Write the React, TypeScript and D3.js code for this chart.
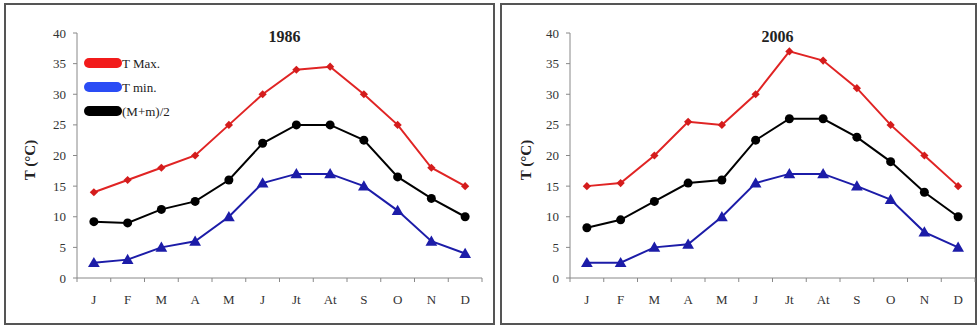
import React from "react";
import * as d3 from "d3";

const months = ["J", "F", "M", "A", "M", "J", "Jt", "At", "S", "O", "N", "D"];
const yTicks = [0, 5, 10, 15, 20, 25, 30, 35, 40];

const max1986 = [14, 16, 18, 20, 25, 30, 34, 34.5, 30, 25, 18, 15];
const mean1986 = [9.2, 9, 11.2, 12.5, 16, 22, 25, 25, 22.5, 16.5, 13, 10];
const min1986 = [2.5, 3, 5, 6, 10, 15.5, 17, 17, 15, 11, 6, 4];

const max2006 = [15, 15.5, 20, 25.5, 25, 30, 37, 35.5, 31, 25, 20, 15];
const mean2006 = [8.2, 9.5, 12.5, 15.5, 16, 22.5, 26, 26, 23, 19, 14, 10];
const min2006 = [2.5, 2.5, 5, 5.5, 10, 15.5, 17, 17, 15, 12.8, 7.5, 5];

const legendItems = [
  { label: "T Max.", color: "#f21b1b" },
  { label: "T min.", color: "#2a4cf5" },
  { label: "(M+m)/2", color: "#000000" },
];

const serif = "'Liberation Serif', 'DejaVu Serif', serif";

type Panel = {
  title: string;
  box: [number, number, number, number];
  axisX: number;
  axisEnd: number;
  max: number[];
  mean: number[];
  min: number[];
  legend: boolean;
};

const panels: Panel[] = [
  { title: "1986", box: [5, 4, 489, 320], axisX: 77, axisEnd: 482, max: max1986, mean: mean1986, min: min1986, legend: true },
  { title: "2006", box: [501, 4, 475, 320], axisX: 570, axisEnd: 975, max: max2006, mean: mean2006, min: min2006, legend: false },
];

const ChartPanel = ({ p }: { p: Panel }) => {
  const y = d3.scaleLinear().domain([0, 40]).range([278, 33]);
  const x = d3
    .scaleBand<number>()
    .domain(d3.range(12))
    .range([p.axisX, p.axisEnd]);
  const cx = (i: number) => (x(i) as number) + x.bandwidth() / 2;
  const line = (vals: number[]) =>
    d3
      .line<number>()
      .x((_, i) => cx(i))
      .y((v) => y(v))(vals) as string;
  const tri = d3.symbol(d3.symbolTriangle, 60)() as string;
  const dia = d3.symbol(d3.symbolSquare, 34)() as string;
  const [bx, by, bw, bh] = p.box;
  const titleX = (p.axisX + p.axisEnd) / 2 + 5;

  return (
    <g>
      <rect x={bx} y={by} width={bw} height={bh} fill="#fff" stroke="#555" strokeWidth={2} />
      {/* y axis */}
      <line x1={p.axisX} x2={p.axisX} y1={y(40)} y2={y(0)} stroke="#888" />
      {yTicks.map((t) => (
        <g key={t}>
          <line x1={p.axisX - 4} x2={p.axisX} y1={y(t)} y2={y(t)} stroke="#888" />
          <text x={p.axisX - 11} y={y(t)} dy="0.35em" textAnchor="end" fontFamily={serif} fontSize={13} fill="#333">
            {t}
          </text>
        </g>
      ))}
      {/* x axis */}
      <line x1={p.axisX} x2={p.axisEnd} y1={y(0)} y2={y(0)} stroke="#888" />
      {d3.range(13).map((i) => {
        const tx = i < 12 ? (x(i) as number) : p.axisEnd;
        return <line key={i} x1={tx} x2={tx} y1={y(0)} y2={y(0) + 4} stroke="#888" />;
      })}
      {months.map((m, i) => (
        <text key={i} x={cx(i)} y={304} textAnchor="middle" fontFamily={serif} fontSize={13} fill="#333">
          {m}
        </text>
      ))}
      <text x={titleX} y={42} textAnchor="middle" fontFamily={serif} fontSize={16} fontWeight="bold" fill="#222">
        {p.title}
      </text>
      <text
        transform={`translate(${bx + 30},${160}) rotate(-90)`}
        textAnchor="middle"
        fontFamily={serif}
        fontSize={15}
        fontWeight="bold"
        fill="#222"
      >
        T (°C)
      </text>
      {/* series */}
      <path d={line(p.max)} fill="none" stroke="#e02424" strokeWidth={2} />
      <path d={line(p.mean)} fill="none" stroke="#000" strokeWidth={2} />
      <path d={line(p.min)} fill="none" stroke="#1c1ca8" strokeWidth={2} />
      {p.max.map((v, i) => (
        <path key={"a" + i} d={dia} transform={`translate(${cx(i)},${y(v)}) rotate(45)`} fill="#d41c1c" />
      ))}
      {p.mean.map((v, i) => (
        <circle key={"b" + i} cx={cx(i)} cy={y(v)} r={4.5} fill="#000" />
      ))}
      {p.min.map((v, i) => (
        <path key={"c" + i} d={tri} transform={`translate(${cx(i)},${y(v) + 1})`} fill="#1c1ca8" />
      ))}
      {p.legend &&
        legendItems.map((d, i) => (
          <g key={d.label}>
            <line x1={89} x2={117} y1={63 + i * 24} y2={63 + i * 24} stroke={d.color} strokeWidth={10} strokeLinecap="round" />
            <text x={122} y={63 + i * 24} dy="0.35em" fontFamily={serif} fontSize={13} fill="#222">
              {d.label}
            </text>
          </g>
        ))}
    </g>
  );
};

export default function App() {
  return (
    <svg
      width={979}
      height={327}
      style={{ position: "absolute", left: 0, top: 0, background: "#fff" }}
    >
      {panels.map((p) => (
        <ChartPanel key={p.title} p={p} />
      ))}
    </svg>
  );
}
